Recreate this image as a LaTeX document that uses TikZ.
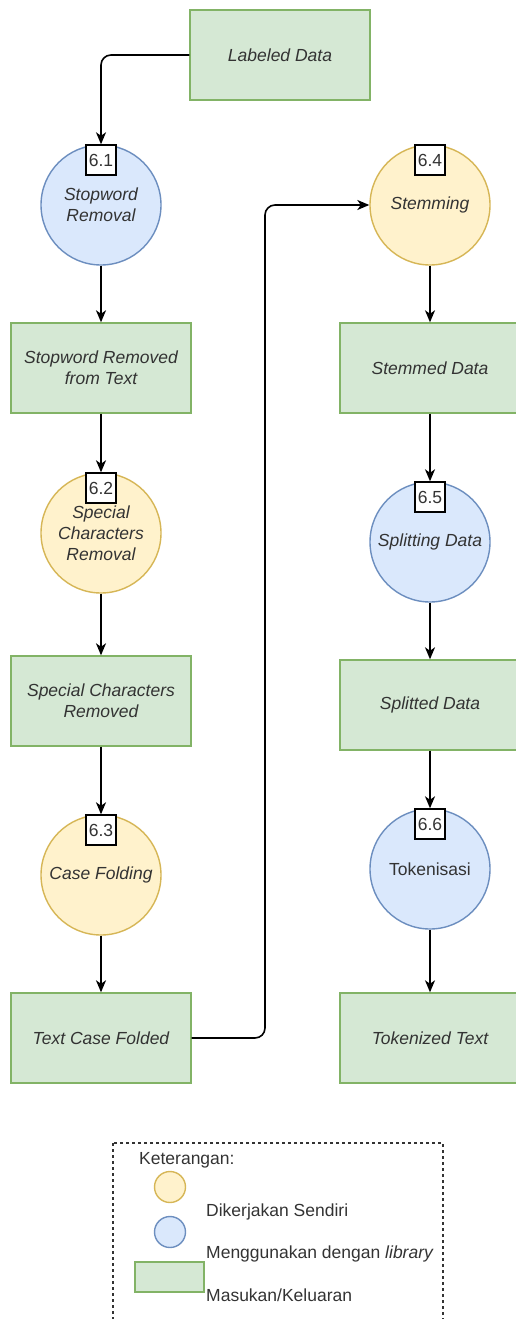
\documentclass[tikz,border=0pt]{standalone}
\usepackage{fontspec}
\setmainfont{Liberation Sans}
\usetikzlibrary{arrows.meta}
\definecolor{gfill}{HTML}{D5E8D4}
\definecolor{gline}{HTML}{82B366}
\definecolor{yfill}{HTML}{FFF2CC}
\definecolor{yline}{HTML}{D6B656}
\definecolor{bfill}{HTML}{DAE8FC}
\definecolor{bline}{HTML}{6C8EBF}
\definecolor{txt}{HTML}{333333}
\tikzset{
  base/.style={font=\fontsize{17.5}{21}\selectfont, text=txt, align=center, inner sep=0pt},
  store/.style={base, rectangle, draw=gline, fill=gfill, line width=1.4pt, minimum width=180pt, minimum height=90pt, font=\fontsize{17.5}{21}\selectfont\itshape},
  procY/.style={base, circle, draw=yline, fill=yfill, line width=1.4pt, minimum size=120pt, font=\fontsize{17.5}{21}\selectfont\itshape},
  procB/.style={base, circle, draw=bline, fill=bfill, line width=1.4pt, minimum size=120pt, font=\fontsize{17.5}{21}\selectfont\itshape},
  numbox/.style={base, rectangle, draw=black, fill=white, line width=1.4pt, minimum size=30pt, anchor=north},
  arr/.style={draw=black, line width=1.6pt, -{Stealth[length=12pt,width=10pt,inset=3.5pt]}, rounded corners=10pt},
  legendbox/.style={draw=black!80, line width=1.4pt, dash pattern=on 3pt off 3pt},
  legtext/.style={base, anchor=west, align=left},
}
\begin{document}
\begin{tikzpicture}[x=1pt,y=-1pt]
\useasboundingbox (0,0) rectangle (515,1319);
% left column
\node[store] (ld) at (280,55) {Labeled Data};
\node[procB] (p1) at (101,205) {Stopword\\Removal};
\node[numbox] (n1) at (p1.north) {\upshape 6.1};
\node[store] (s1) at (101,368) {Stopword Removed\\from Text};
\node[procY] (p2) at (101,533) {Special\\Characters\\Removal};
\node[numbox] (n2) at (p2.north) {\upshape 6.2};
\node[store] (s2) at (101,701) {Special Characters\\Removed};
\node[procY] (p3) at (101,875) {Case Folding};
\node[numbox] (n3) at (p3.north) {\upshape 6.3};
\node[store] (s3) at (101,1038) {Text Case Folded};
% right column
\node[procY] (p4) at (430,205) {Stemming};
\node[numbox] (n4) at (p4.north) {\upshape 6.4};
\node[store] (s4) at (430,368) {Stemmed Data};
\node[procB] (p5) at (430,542) {Splitting Data};
\node[numbox] (n5) at (p5.north) {\upshape 6.5};
\node[store] (s5) at (430,705) {Splitted Data};
\node[procB, font=\fontsize{17.5}{21}\selectfont\upshape] (p6) at (430,869) {Tokenisasi};
\node[numbox] (n6) at (p6.north) {\upshape 6.6};
\node[store] (s6) at (430,1038) {Tokenized Text};
% connectors
\draw[arr] (ld.west) -| (p1.north);
\draw[arr] (p1) -- (s1);
\draw[arr] (s1) -- (p2.north);
\draw[arr] (p2) -- (s2);
\draw[arr] (s2) -- (p3.north);
\draw[arr] (p3) -- (s3);
\coordinate (cx) at (265,600);
\draw[arr] (s3.east) -- (s3.east -| cx) -- (cx |- p4.west) -- (p4.west);
\draw[arr] (p4) -- (s4);
\draw[arr] (s4) -- (p5.north);
\draw[arr] (p5) -- (s5);
\draw[arr] (s5) -- (p6.north);
\draw[arr] (p6) -- (s6);
% legend
\draw[legendbox] (113,1143) rectangle (443,1340);
\node[legtext] (lk) at (139,1160) {Keterangan:};
\node[circle, draw=yline, fill=yfill, line width=1.4pt, minimum size=31pt, inner sep=0pt] (ly) at (170,1187) {};
\node[circle, draw=bline, fill=bfill, line width=1.4pt, minimum size=31pt, inner sep=0pt] (lb) at (170,1232) {};
\node[rectangle, draw=gline, fill=gfill, line width=1.4pt, minimum width=69pt, minimum height=30pt, inner sep=0pt] (lg) at (169.5,1277) {};
\node[legtext] (l1) at (206,1212) {Dikerjakan Sendiri};
\node[legtext] (l2) at (206,1254) {Menggunakan dengan \textit{library}};
\node[legtext] (l3) at (206,1295) {Masukan/Keluaran};
\end{tikzpicture}
\end{document}
